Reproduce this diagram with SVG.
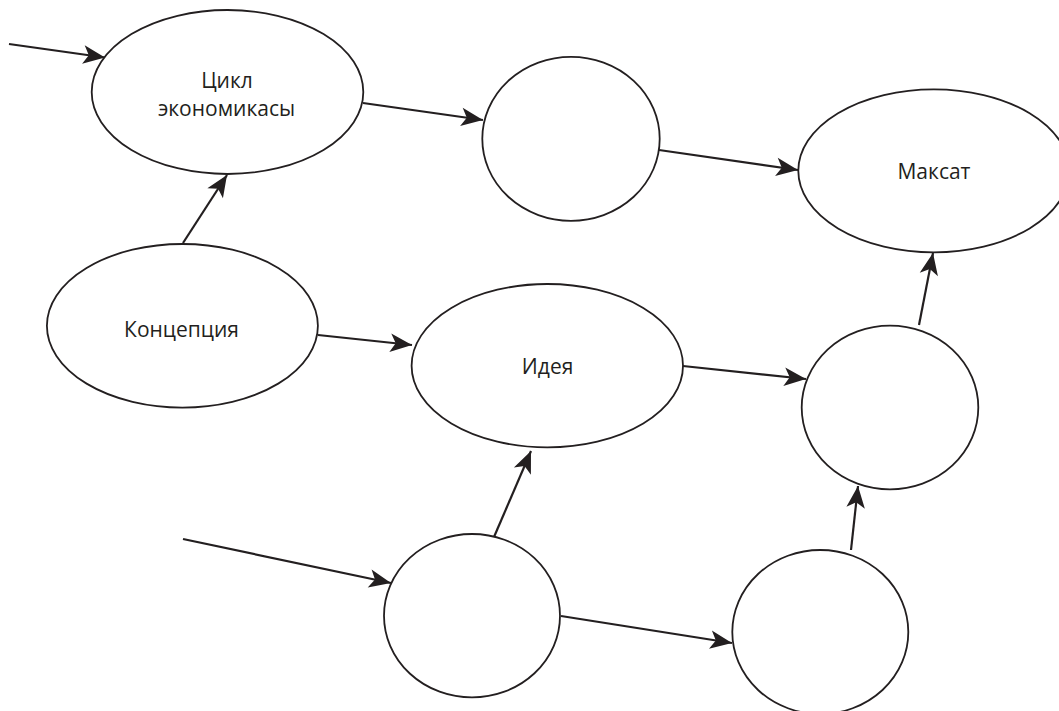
<svg xmlns="http://www.w3.org/2000/svg" width="1059" height="711" viewBox="0 0 1059 711">
<defs>
<style>
.node{fill:#fff;stroke:#231f20;stroke-width:1.8}
.lbl{font-family:"Open Sans","Liberation Sans",sans-serif;font-size:21px;fill:#231f20;text-anchor:middle}
.edge{stroke:#231f20;stroke-width:2.2;fill:none;marker-end:url(#ah)}
</style>
<marker id="ah" markerUnits="userSpaceOnUse" markerWidth="24" markerHeight="20" viewBox="-21 -9 22 18" refX="0" refY="0" orient="auto">
<path d="M0,0 L-20,-8.5 L-15,0 L-20,8.5 Z" fill="#231f20"/>
</marker>
</defs>
<rect width="1059" height="711" fill="#fff"/>
<g id="connectors">
<line class="edge" x1="9" y1="44" x2="105" y2="57.5"/>
<line class="edge" x1="183" y1="243" x2="227" y2="175"/>
<line class="edge" x1="363" y1="103" x2="483" y2="120"/>
<line class="edge" x1="659" y1="150" x2="798" y2="170"/>
<line class="edge" x1="318" y1="335" x2="412" y2="345"/>
<line class="edge" x1="683" y1="366" x2="806" y2="379"/>
<line class="edge" x1="919" y1="325" x2="933" y2="253"/>
<line class="edge" x1="494" y1="537" x2="531" y2="451"/>
<line class="edge" x1="183" y1="539" x2="391" y2="583"/>
<line class="edge" x1="561" y1="616" x2="732" y2="643"/>
<line class="edge" x1="851" y1="550" x2="858" y2="486"/>
</g>
<g id="n-cycle">
<ellipse class="node" cx="227.5" cy="92" rx="135.8" ry="82"/>
<text class="lbl" x="227" y="88">Цикл</text>
<text class="lbl" x="226.5" y="116">экономикасы</text>
</g>
<g id="n-c1">
<ellipse class="node" cx="571" cy="138.8" rx="88.7" ry="82"/>
</g>
<g id="n-maksat">
<ellipse class="node" cx="933.8" cy="170.8" rx="135.5" ry="81.5"/>
<text class="lbl" x="934" y="179">Максат</text>
</g>
<g id="n-konc">
<ellipse class="node" cx="182.4" cy="325.8" rx="135.5" ry="81.8"/>
<text class="lbl" x="181.5" y="336.7">Концепция</text>
</g>
<g id="n-ideya">
<ellipse class="node" cx="547.3" cy="365.7" rx="135.7" ry="81.7"/>
<text class="lbl" x="547.6" y="374">Идея</text>
</g>
<g id="n-c2">
<ellipse class="node" cx="890" cy="407.5" rx="88.3" ry="81.8"/>
</g>
<g id="n-c3">
<ellipse class="node" cx="472" cy="615.7" rx="88" ry="81.7"/>
</g>
<g id="n-c4">
<ellipse class="node" cx="820.3" cy="632" rx="88" ry="82"/>
</g>
</svg>
